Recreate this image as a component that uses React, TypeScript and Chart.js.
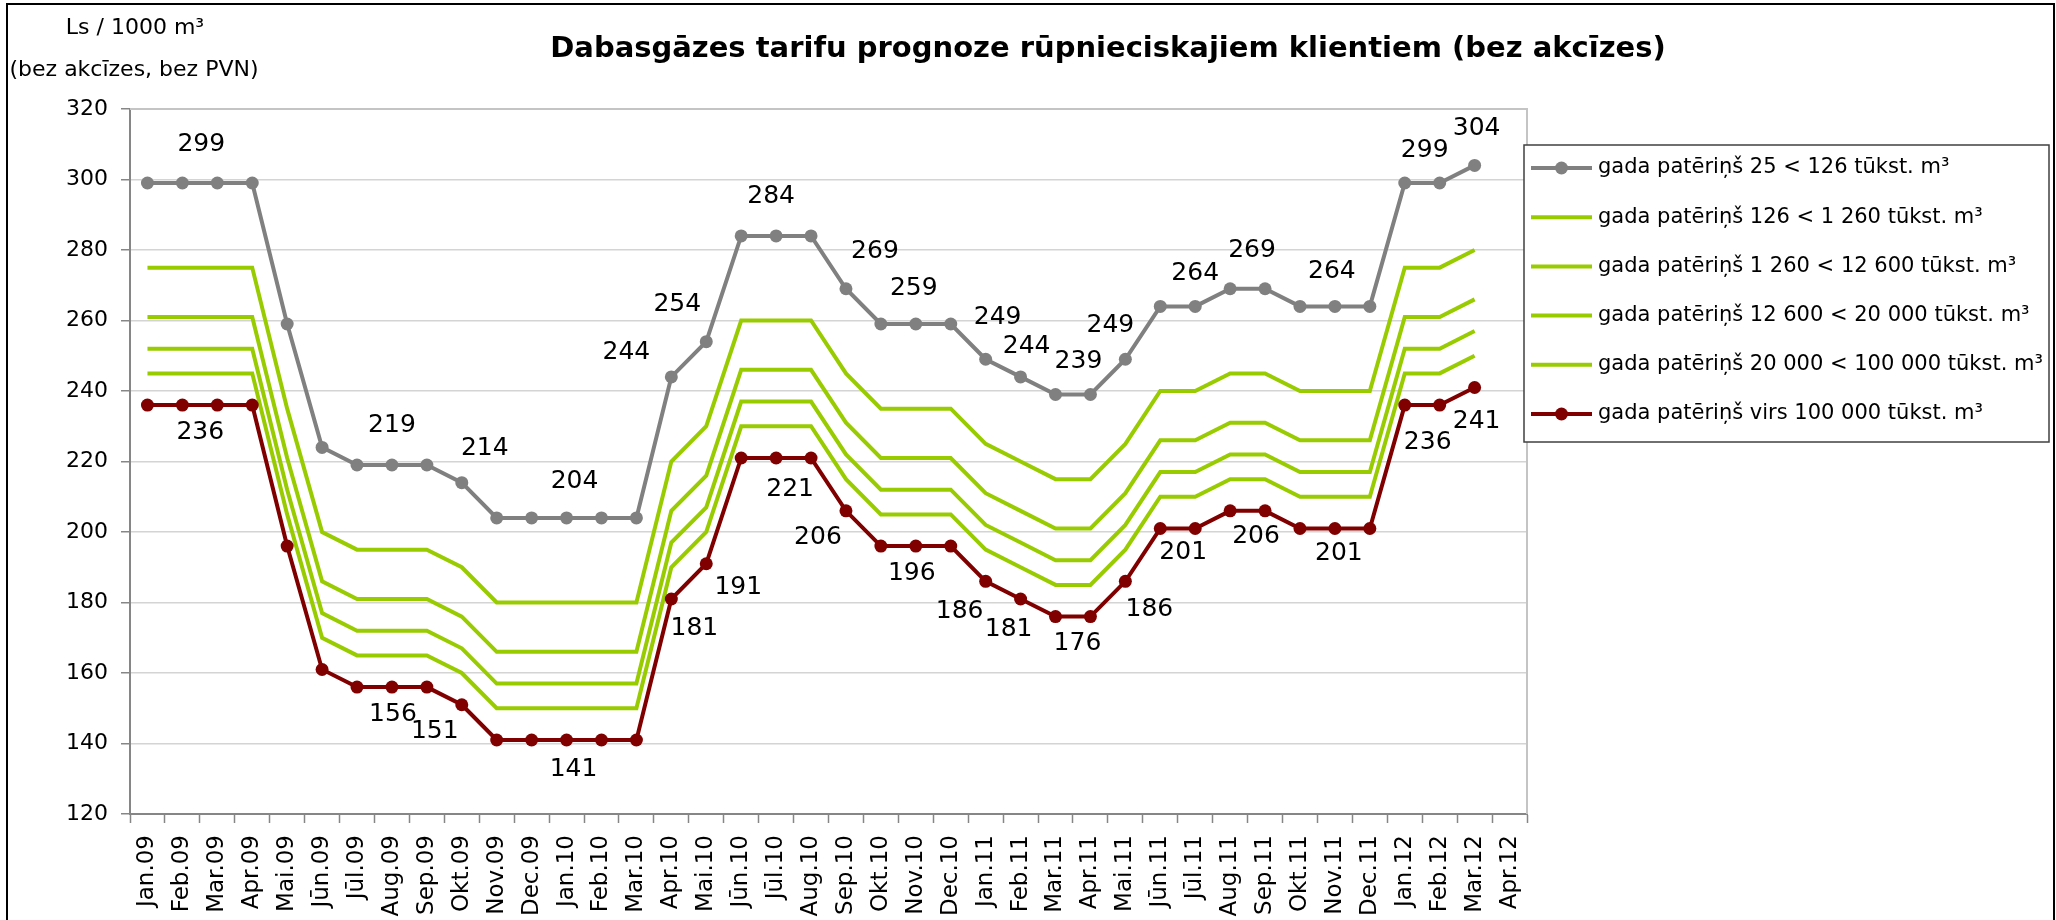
import React, { useEffect, useRef } from "react";
import { Chart, registerables } from "chart.js";

Chart.register(...registerables);

// ---------- DATA ----------
const MONTHS = [
  "Jan.09", "Feb.09", "Mar.09", "Apr.09", "Mai.09", "Jūn.09", "Jūl.09", "Aug.09", "Sep.09", "Okt.09", "Nov.09", "Dec.09",
  "Jan.10", "Feb.10", "Mar.10", "Apr.10", "Mai.10", "Jūn.10", "Jūl.10", "Aug.10", "Sep.10", "Okt.10", "Nov.10", "Dec.10",
  "Jan.11", "Feb.11", "Mar.11", "Apr.11", "Mai.11", "Jūn.11", "Jūl.11", "Aug.11", "Sep.11", "Okt.11", "Nov.11", "Dec.11",
  "Jan.12", "Feb.12", "Mar.12", "Apr.12",
];

const SERIES_25_126 = [299, 299, 299, 299, 259, 224, 219, 219, 219, 214, 204, 204, 204, 204, 204, 244, 254, 284, 284, 284, 269, 259, 259, 259, 249, 244, 239, 239, 249, 264, 264, 269, 269, 264, 264, 264, 299, 299, 304, null];
const SERIES_126_1260 = [275, 275, 275, 275, 235, 200, 195, 195, 195, 190, 180, 180, 180, 180, 180, 220, 230, 260, 260, 260, 245, 235, 235, 235, 225, 220, 215, 215, 225, 240, 240, 245, 245, 240, 240, 240, 275, 275, 280, null];
const SERIES_1260_12600 = [261, 261, 261, 261, 221, 186, 181, 181, 181, 176, 166, 166, 166, 166, 166, 206, 216, 246, 246, 246, 231, 221, 221, 221, 211, 206, 201, 201, 211, 226, 226, 231, 231, 226, 226, 226, 261, 261, 266, null];
const SERIES_12600_20000 = [252, 252, 252, 252, 212, 177, 172, 172, 172, 167, 157, 157, 157, 157, 157, 197, 207, 237, 237, 237, 222, 212, 212, 212, 202, 197, 192, 192, 202, 217, 217, 222, 222, 217, 217, 217, 252, 252, 257, null];
const SERIES_20000_100000 = [245, 245, 245, 245, 205, 170, 165, 165, 165, 160, 150, 150, 150, 150, 150, 190, 200, 230, 230, 230, 215, 205, 205, 205, 195, 190, 185, 185, 195, 210, 210, 215, 215, 210, 210, 210, 245, 245, 250, null];
const SERIES_OVER_100000 = [236, 236, 236, 236, 196, 161, 156, 156, 156, 151, 141, 141, 141, 141, 141, 181, 191, 221, 221, 221, 206, 196, 196, 196, 186, 181, 176, 176, 186, 201, 201, 206, 206, 201, 201, 201, 236, 236, 241, null];

const SERIES_LABELS = [
  "gada patēriņš 25 < 126 tūkst. m³",
  "gada patēriņš 126 < 1 260 tūkst. m³",
  "gada patēriņš 1 260 < 12 600 tūkst. m³",
  "gada patēriņš 12 600 < 20 000 tūkst. m³",
  "gada patēriņš 20 000 < 100 000 tūkst. m³",
  "gada patēriņš virs 100 000 tūkst. m³",
];

const Y_MIN = 120;
const Y_MAX = 320;
const Y_STEP = 20;

const TITLE = "Dabasgāzes tarifu prognoze rūpnieciskajiem klientiem (bez akcīzes)";
const Y_TITLE_1 = "Ls / 1000 m³";
const Y_TITLE_2 = "(bez akcīzes, bez PVN)";

// Indices of points that carry a value label (top series / bottom series)
const TOP_LABEL_POINTS = [2, 7, 9, 12, 15, 16, 18, 20, 22, 24, 25, 27, 28, 30, 32, 34, 37, 38];
const BOTTOM_LABEL_POINTS = [2, 7, 9, 12, 15, 16, 18, 20, 22, 24, 25, 27, 28, 30, 32, 34, 37, 38];

// ---------- STYLE / PLACEMENT ----------
const TOP_LABEL_OFFSETS: [number, number][] = [
  [-16, -39], [0, -40], [23, -34], [8, -36], [-45, -24], [-29, -37], [-5, -39], [29, -37], [-2, -36],
  [12, -42], [6, -30], [-12, -33], [-15, -34], [0, -33], [-13, -38], [-3, -35], [-15, -33], [2, -37],
];
const BOTTOM_LABEL_OFFSETS: [number, number][] = [
  [-17, 27], [1, 27], [-27, 27], [7, 30], [23, 30], [32, 24], [14, 32], [-28, 27], [-4, 27],
  [-26, 30], [-12, 31], [-13, 27], [24, 28], [-12, 24], [-9, 26], [4, 25], [-12, 37], [2, 34],
];

const W = 2056;
const H = 920;
const AREA = { left: 130, top: 109, right: 1527, bottom: 814 };
const FONT = "'DejaVu Sans', sans-serif";
const GRAY = "#808080";
const GREEN = "#99cc00";
const RED = "#800000";

const overlayPlugin = {
  id: "overlay",
  beforeDatasetsDraw(chart: any) {
    const { ctx, chartArea } = chart;
    ctx.save();
    ctx.strokeStyle = "#c4c4c4";
    ctx.lineWidth = 2;
    ctx.beginPath();
    ctx.moveTo(chartArea.left, chartArea.top);
    ctx.lineTo(chartArea.right, chartArea.top);
    ctx.lineTo(chartArea.right, chartArea.bottom);
    ctx.stroke();
    ctx.restore();
  },
  afterDatasetsDraw(chart: any) {
    const { ctx } = chart;
    ctx.save();
    ctx.fillStyle = "#000";
    ctx.font = `25px ${FONT}`;
    ctx.textAlign = "center";
    ctx.textBaseline = "middle";
    const draw = (dsIndex: number, idxs: number[], offs: [number, number][]) => {
      const meta = chart.getDatasetMeta(dsIndex);
      const vals = chart.data.datasets[dsIndex].data;
      idxs.forEach((i, k) => {
        const pt = meta.data[i];
        if (!pt || vals[i] == null) return;
        ctx.fillText(String(vals[i]), pt.x + offs[k][0], pt.y + offs[k][1]);
      });
    };
    draw(0, TOP_LABEL_POINTS, TOP_LABEL_OFFSETS);
    draw(5, BOTTOM_LABEL_POINTS, BOTTOM_LABEL_OFFSETS);
    ctx.restore();
  },
  afterDraw(chart: any) {
    const { ctx } = chart;
    ctx.save();
    // outer frame
    ctx.strokeStyle = "#000";
    ctx.lineWidth = 2;
    ctx.strokeRect(7, 4, 2047, 940);

    // title
    ctx.fillStyle = "#000";
    ctx.textAlign = "center";
    ctx.textBaseline = "middle";
    ctx.font = `bold 29px ${FONT}`;
    ctx.fillText(TITLE, 1108, 49);

    // y axis title
    ctx.font = `22px ${FONT}`;
    ctx.fillText(Y_TITLE_1, 135, 28);
    ctx.fillText(Y_TITLE_2, 134, 70);

    // legend
    const lx = 1524, ly = 145, lw = 525, lh = 297;
    ctx.fillStyle = "#fff";
    ctx.fillRect(lx, ly, lw, lh);
    ctx.strokeStyle = "#404040";
    ctx.lineWidth = 1.5;
    ctx.strokeRect(lx, ly, lw, lh);
    ctx.font = `21px ${FONT}`;
    ctx.textAlign = "left";
    chart.data.datasets.forEach((ds: any, k: number) => {
      const y = 168 + k * 49.2;
      ctx.strokeStyle = ds.borderColor;
      ctx.lineWidth = 4;
      ctx.beginPath();
      ctx.moveTo(1531, y);
      ctx.lineTo(1592, y);
      ctx.stroke();
      if (ds.pointRadius > 0) {
        ctx.fillStyle = ds.borderColor;
        ctx.beginPath();
        ctx.arc(1561.5, y, 6.5, 0, Math.PI * 2);
        ctx.fill();
      }
      ctx.fillStyle = "#000";
      ctx.fillText(ds.label, 1598, y);
    });
    ctx.restore();
  },
};

export default function App() {
  const ref = useRef<HTMLCanvasElement | null>(null);

  useEffect(() => {
    if (!ref.current) return;
    const mk = (label: string, data: (number | null)[], color: string, points: boolean, order: number) => ({
      label,
      data,
      borderColor: color,
      backgroundColor: color,
      borderWidth: 4,
      pointRadius: points ? 6.5 : 0,
      pointHoverRadius: points ? 6.5 : 0,
      pointBackgroundColor: color,
      pointBorderColor: color,
      pointBorderWidth: 0,
      tension: 0,
      fill: false,
      order,
    });
    const chart = new Chart(ref.current, {
      type: "line",
      data: {
        labels: MONTHS,
        datasets: [
          mk(SERIES_LABELS[0], SERIES_25_126, GRAY, true, 1),
          mk(SERIES_LABELS[1], SERIES_126_1260, GREEN, false, 2),
          mk(SERIES_LABELS[2], SERIES_1260_12600, GREEN, false, 2),
          mk(SERIES_LABELS[3], SERIES_12600_20000, GREEN, false, 2),
          mk(SERIES_LABELS[4], SERIES_20000_100000, GREEN, false, 2),
          mk(SERIES_LABELS[5], SERIES_OVER_100000, RED, true, 0),
        ],
      },
      options: {
        responsive: false,
        animation: false,
        devicePixelRatio: 1,
        events: [],
        layout: {
          padding: { left: 0, top: AREA.top, right: W - AREA.right, bottom: 0 },
        },
        plugins: {
          legend: { display: false },
          title: { display: false },
          tooltip: { enabled: false },
        },
        scales: {
          x: {
            type: "category",
            offset: true,
            afterFit: (s: any) => {
              s.height = H - AREA.bottom;
            },
            grid: {
              offset: true,
              drawOnChartArea: false,
              drawTicks: true,
              tickLength: 9,
              tickColor: "#868686",
              tickWidth: 1.5,
            },
            border: { color: "#868686", width: 2 },
            ticks: {
              autoSkip: false,
              minRotation: 90,
              maxRotation: 90,
              padding: 12,
              color: "#000",
              font: { family: FONT, size: 23 },
            },
          },
          y: {
            min: Y_MIN,
            max: Y_MAX,
            afterFit: (s: any) => {
              s.width = AREA.left;
            },
            grid: {
              color: "#d4d4d4",
              lineWidth: 1.5,
              drawTicks: true,
              tickLength: 9,
              tickColor: "#868686",
              tickWidth: 1.5,
            },
            border: { color: "#868686", width: 2 },
            ticks: {
              stepSize: Y_STEP,
              padding: 13,
              color: "#000",
              font: { family: FONT, size: 22 },
            },
          },
        },
      },
      plugins: [overlayPlugin],
    } as any);
    return () => chart.destroy();
  }, []);

  return (
    <div style={{ position: "absolute", left: 0, top: 0, width: W, height: H, background: "#fff" }}>
      <canvas ref={ref} width={W} height={H} style={{ width: W, height: H, display: "block" }} />
    </div>
  );
}
